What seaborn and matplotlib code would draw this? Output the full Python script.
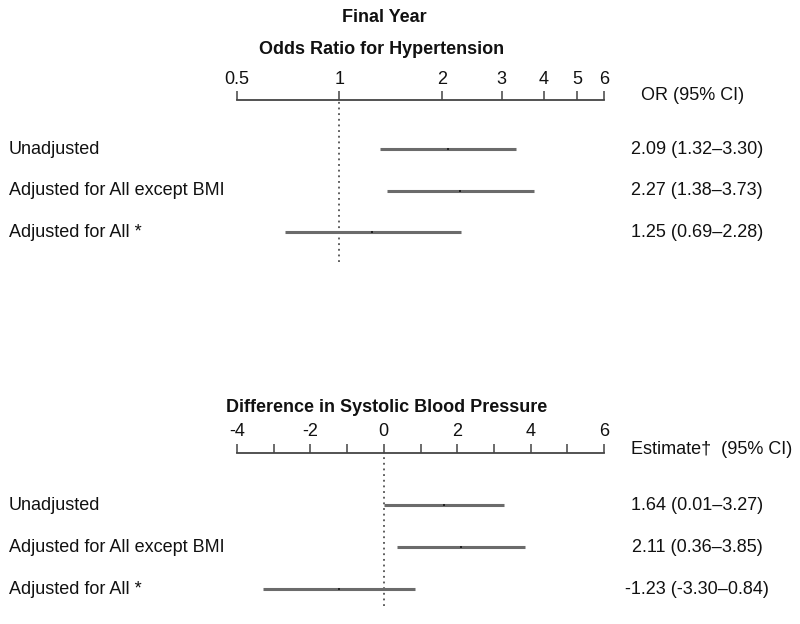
import matplotlib
matplotlib.use('Agg')
import matplotlib.pyplot as plt
import matplotlib.transforms as mtransforms
import numpy as np
import pandas as pd
import seaborn as sns

# Data
models = ['Unadjusted', 'Adjusted for All except BMI', 'Adjusted for All *']

or_est = [2.09, 2.27, 1.25]
or_lo = [1.32, 1.38, 0.69]
or_hi = [3.30, 3.73, 2.28]
or_labels = ['2.09 (1.32\u20133.30)', '2.27 (1.38\u20133.73)', '1.25 (0.69\u20132.28)']
or_ticks = [0.5, 1, 2, 3, 4, 5, 6]
or_ticklabels = ['0.5', '1', '2', '3', '4', '5', '6']

sbp_est = [1.64, 2.11, -1.23]
sbp_lo = [0.01, 0.36, -3.30]
sbp_hi = [3.27, 3.85, 0.84]
sbp_labels = ['1.64 (0.01\u20133.27)', '2.11 (0.36\u20133.85)', '-1.23 (-3.30\u20130.84)']
sbp_ticks = [-4, -3, -2, -1, 0, 1, 2, 3, 4, 5, 6]
sbp_ticklabels = ['-4', '', '-2', '', '0', '', '2', '', '4', '', '6']

sns.set_style('white')
plt.rcParams['font.family'] = ['Liberation Sans', 'DejaVu Sans']

W, H = 800, 624
fig = plt.figure(figsize=(W / 100, H / 100), dpi=100)


def fx(px):
    return px / W


def fy(py):
    return 1 - py / H


def panel(top_px, bot_px, ylim, est, lo, hi, labels, ticks, ticklabels,
          ref, log, header, header_x, header_y):
    ax = fig.add_axes([fx(237), fy(bot_px), fx(604) - fx(237), (bot_px - top_px) / H])
    df = pd.DataFrame({'model': models, 'est': est, 'lo': lo, 'hi': hi,
                       'row': np.arange(len(models))})
    if log:
        ax.set_xscale('log')
    # confidence intervals
    ax.hlines(df['row'], df['lo'], df['hi'], color='#6b6b6b', lw=2.2, zorder=2)
    # point estimates
    sns.scatterplot(data=df, x='est', y='row', ax=ax, color='#222222', marker='s',
                    s=3, linewidth=0, zorder=3)
    ax.axvline(ref, color='#333333', lw=1.1, ls=(0, (1.2, 2.5)), zorder=1)
    ax.set_xlim(ticks[0], ticks[-1])
    ax.set_ylim(*ylim)
    ax.set_xticks(ticks)
    ax.set_xticks([], minor=True)
    ax.set_xticklabels(ticklabels)
    ax.set_yticks([])
    ax.set_xlabel('')
    ax.set_ylabel('')
    ax.xaxis.tick_top()
    ax.tick_params(axis='x', which='major', direction='out', length=6.5, width=1.1,
                   color='#444444', labelsize=13, pad=2.5, labelcolor='#111111',
                   top=True, bottom=False)
    for side in ['left', 'right', 'bottom']:
        ax.spines[side].set_visible(False)
    ax.spines['top'].set_color('#444444')
    ax.spines['top'].set_linewidth(1.3)
    ax.patch.set_alpha(0)

    trans = mtransforms.blended_transform_factory(fig.transFigure, ax.transData)
    for i, m in enumerate(models):
        ax.text(fx(9), i, m, transform=trans, fontsize=13, ha='left',
                va='center', color='#111111')
        ax.text(fx(697), i, labels[i], transform=trans, fontsize=13, ha='center',
                va='center', color='#111111')
    fig.text(fx(header_x), fy(header_y), header, fontsize=13, ha='center',
             va='center', color='#111111')
    return ax


panel(100, 262, (2.72, -1.18), or_est, or_lo, or_hi, or_labels, or_ticks,
      or_ticklabels, 1, True, 'OR (95% CI)', 693, 96)
panel(453, 606, (2.4, -1.24), sbp_est, sbp_lo, sbp_hi, sbp_labels, sbp_ticks,
      sbp_ticklabels, 0, False, 'Estimate\u2020  (95% CI)', 712, 450)

fig.text(fx(384), fy(17), 'Final Year', fontsize=13, fontweight='bold',
         ha='center', va='center', color='#111111')
fig.text(fx(382), fy(50), 'Odds Ratio for Hypertension', fontsize=13,
         fontweight='bold', ha='center', va='center', color='#111111')
fig.text(fx(387), fy(408), 'Difference in Systolic Blood Pressure', fontsize=13,
         fontweight='bold', ha='center', va='center', color='#111111')

fig.savefig('out.png', dpi=100, facecolor='white')
